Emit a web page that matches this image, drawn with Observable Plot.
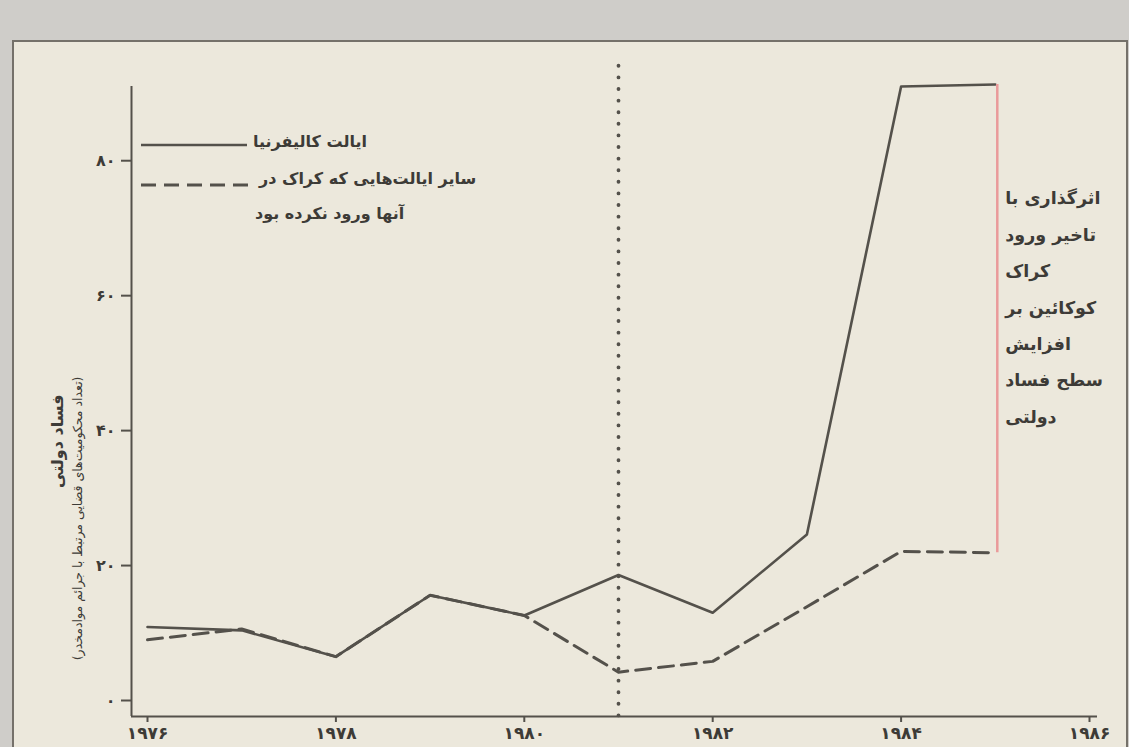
<!DOCTYPE html>
<html><head><meta charset="utf-8">
<script src="https://cdn.jsdelivr.net/npm/d3@7"></script>
<script src="https://cdn.jsdelivr.net/npm/@observablehq/plot@0.6"></script>
<style>
html,body{margin:0;padding:0;background:#cfcdc9;width:1129px;height:747px;overflow:hidden}
#wrap{position:relative;width:1129px;height:747px}
#frame{position:absolute;left:12px;top:40px;width:1112px;height:730px;background:#ece8dc;border:2px solid #75716a}
#chart{position:absolute;left:0;top:0}
</style></head><body>
<div id="wrap"><div id="frame"></div><div id="chart"></div></div>
<script>
const years = [1976, 1977, 1978, 1979, 1980, 1981, 1982, 1983, 1984, 1985];
const california = [10.9, 10.4, 6.5, 15.6, 12.6, 18.6, 13.0, 24.6, 91.0, 91.3];
const otherStates = [9.0, 10.6, 6.5, 15.6, 12.6, 4.2, 5.8, 13.9, 22.1, 21.9];
const xTicks = [1976, 1978, 1980, 1982, 1984, 1986];
const xTickLabels = ["۱۹۷۶", "۱۹۷۸", "۱۹۸۰", "۱۹۸۲", "۱۹۸۴", "۱۹۸۶"];
const yTicks = [0, 20, 40, 60, 80];
const yTickLabels = ["۰", "۲۰", "۴۰", "۶۰", "۸۰"];
const seriesNames = ["ایالت کالیفرنیا", "سایر ایالت‌هایی که کراک در", "آنها ورود نکرده بود"];
const yTitle = "فساد دولتی";
const ySubtitle = "(تعداد محکومیت‌های قضایی مرتبط با جرائم موادمخدر)";
const noteLines = ["اثرگذاری با", "تاخیر ورود", "کراک", "کوکائین بر", "افزایش", "سطح فساد", "دولتی"];
const crackYear = 1981;
const noteYear = 1985;
const yMax = 91;
const dottedTop = 94;

const ink = "#3d3b37";
const lineInk = "#54514b";
const font = "'DejaVu Sans', 'Noto Sans', sans-serif";
const axisOffset = 16;

const data = years.map((year, i) => ({year, ca: california[i], other: otherStates[i]}));
const last = data[data.length - 1];

function legend(index, scales, values, dims) {
  const g = d3.create("svg:g");
  const x0 = dims.marginLeft - axisOffset + 10, len = 106;
  g.append("line").attr("x1", x0).attr("x2", x0 + len).attr("y1", 145).attr("y2", 145)
    .attr("stroke", lineInk).attr("stroke-width", 2.6);
  g.append("line").attr("x1", x0).attr("x2", x0 + len + 8).attr("y1", 185).attr("y2", 185)
    .attr("stroke", lineInk).attr("stroke-width", 3).attr("stroke-dasharray", "15,8");
  const t = g.append("g").attr("fill", ink).attr("font-size", 16).attr("font-weight", "bold")
    .attr("font-family", font).attr("text-anchor", "start");
  t.append("text").attr("x", x0 + len + 6).attr("y", 141).attr("dy", "0.35em").text(seriesNames[0]);
  t.append("text").attr("x", x0 + len + 12).attr("y", 178).attr("dy", "0.35em").text(seriesNames[1]);
  t.append("text").attr("x", x0 + len + 8).attr("y", 213).attr("dy", "0.35em").text(seriesNames[2]);
  return g.node();
}

const chart = Plot.plot({
  width: 1129,
  height: 747,
  marginLeft: 147,
  marginRight: 40,
  marginTop: 86,
  marginBottom: 47,
  style: {background: "transparent", color: ink, fontFamily: font, fontSize: "13px"},
  x: {domain: [1976, 1986], axis: null},
  y: {domain: [0, yMax], axis: null},
  marks: [
    Plot.ruleX([1976], {y1: yMax, y2: 0, dx: -axisOffset, insetBottom: -axisOffset, stroke: lineInk, strokeWidth: 2}),
    Plot.ruleY([0], {dy: axisOffset, insetLeft: -axisOffset, insetRight: -8, stroke: lineInk, strokeWidth: 2}),
    Plot.axisY({ticks: yTicks, tickFormat: d => yTickLabels[yTicks.indexOf(d)], dx: -axisOffset, tickSize: 10, tickPadding: 6, stroke: lineInk, strokeWidth: 2, fontSize: 16, fontWeight: "bold", label: null}),
    Plot.axisX({ticks: xTicks, tickFormat: d => xTickLabels[xTicks.indexOf(d)], dy: axisOffset, tickSize: 6, tickPadding: 4, stroke: lineInk, strokeWidth: 2, fontSize: 17, fontWeight: "bold", label: null}),
    Plot.ruleX([crackYear], {y1: dottedTop, y2: 0, insetBottom: -axisOffset, stroke: lineInk, strokeWidth: 3.8, strokeDasharray: "0.1,11.5", strokeLinecap: "round", clip: false}),
    Plot.line(data, {x: "year", y: "ca", stroke: lineInk, strokeWidth: 2.6}),
    Plot.line(data, {x: "year", y: "other", stroke: lineInk, strokeWidth: 3, strokeDasharray: "15,8"}),
    Plot.ruleX([last], {x: "year", y1: "ca", y2: "other", stroke: "#ea9a9a", strokeWidth: 2.5, dx: 2}),
    Plot.text([noteLines.join("\n")], {x: () => noteYear, frameAnchor: "top", dy: 92, dx: 10, textAnchor: "start", lineAnchor: "top", lineHeight: 2.08, fontSize: 17.5, fontWeight: "bold", fill: ink}),
    Plot.text([yTitle], {frameAnchor: "top-left", dx: -96, dy: 308, rotate: -90, textAnchor: "end", fontSize: 16, fontWeight: "bold", fill: ink}),
    Plot.text([ySubtitle], {frameAnchor: "top-left", dx: -74, dy: 290, rotate: -90, textAnchor: "end", fontSize: 12.5, fill: ink}),
    legend
  ]
});
document.getElementById("chart").appendChild(chart);
</script>
</body></html>
